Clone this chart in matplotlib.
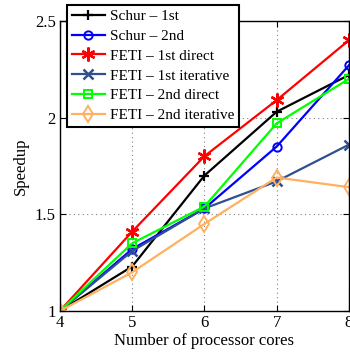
import matplotlib

matplotlib.use("Agg")

import matplotlib.pyplot as plt

cores = [4, 5, 6, 7, 8]
schur_1st = [1.0, 1.23, 1.70, 2.03, 2.22]
schur_2nd = [1.0, 1.32, 1.53, 1.85, 2.27]
feti_1st_direct = [1.0, 1.41, 1.80, 2.09, 2.40]
feti_1st_iter = [1.0, 1.31, 1.53, 1.67, 1.86]
feti_2nd_direct = [1.0, 1.35, 1.54, 1.97, 2.20]
feti_2nd_iter = [1.0, 1.20, 1.45, 1.69, 1.64]

plt.rcParams["font.family"] = ["Liberation Serif", "DejaVu Serif"]

fig = plt.figure(figsize=(3.5, 3.53), dpi=100)
ax = fig.add_axes([0.171, 0.119, 0.826, 0.822])

lw = 1.6
ax.plot(cores, schur_1st, color="black", marker="+", ms=7, mew=1.6, lw=lw, label="Schur \u2013 1st")
ax.plot(cores, schur_2nd, color="blue", marker="o", ms=6, mfc="none", mew=1.4, lw=lw, label="Schur \u2013 2nd")
ax.plot(cores, feti_1st_direct, color="red", marker=(6, 2, 0), ms=10, mew=1.7, lw=lw, label="FETI \u2013 1st direct")
ax.plot(cores, feti_1st_iter, color="#2F4F8F", marker="x", ms=7, mew=1.8, lw=lw, label="FETI \u2013 1st iterative")
ax.plot(cores, feti_2nd_direct, color="#00FF00", marker="s", ms=6, mfc="none", mew=1.4, lw=lw, label="FETI \u2013 2nd direct")
ax.plot(cores, feti_2nd_iter, color="#FFB060", marker="d", ms=8, mfc="none", mew=1.4, lw=lw, label="FETI \u2013 2nd iterative")

ax.set_xlim(4, 8)
ax.set_ylim(1, 2.5)
ax.set_xticks(cores)
ax.set_xticklabels(["4", "5", "6", "7", "8"])
ax.set_yticks([1, 1.5, 2, 2.5])
ax.set_yticklabels(["1", "1.5", "2", "2.5"])
ax.tick_params(direction="in", labelsize=12, length=4, width=0.8, top=True, right=True, pad=3)
ax.grid(True, linestyle=(0, (1, 3)), color="#808080", lw=0.8)
for s in ax.spines.values():
    s.set_linewidth(1.0)

ax.set_xlabel("Number of processor cores", fontsize=12, labelpad=1)
ax.set_ylabel("Speedup", fontsize=12, labelpad=4)

leg = ax.legend(loc="upper left", bbox_to_anchor=(0.025, 1.055), fontsize=11,
                fancybox=False, framealpha=1, edgecolor="black",
                handlelength=2.2, handletextpad=0.3, labelspacing=0.4,
                borderpad=0.3, borderaxespad=0)
leg.get_frame().set_linewidth(1.5)

fig.savefig("out.png", dpi=100)
